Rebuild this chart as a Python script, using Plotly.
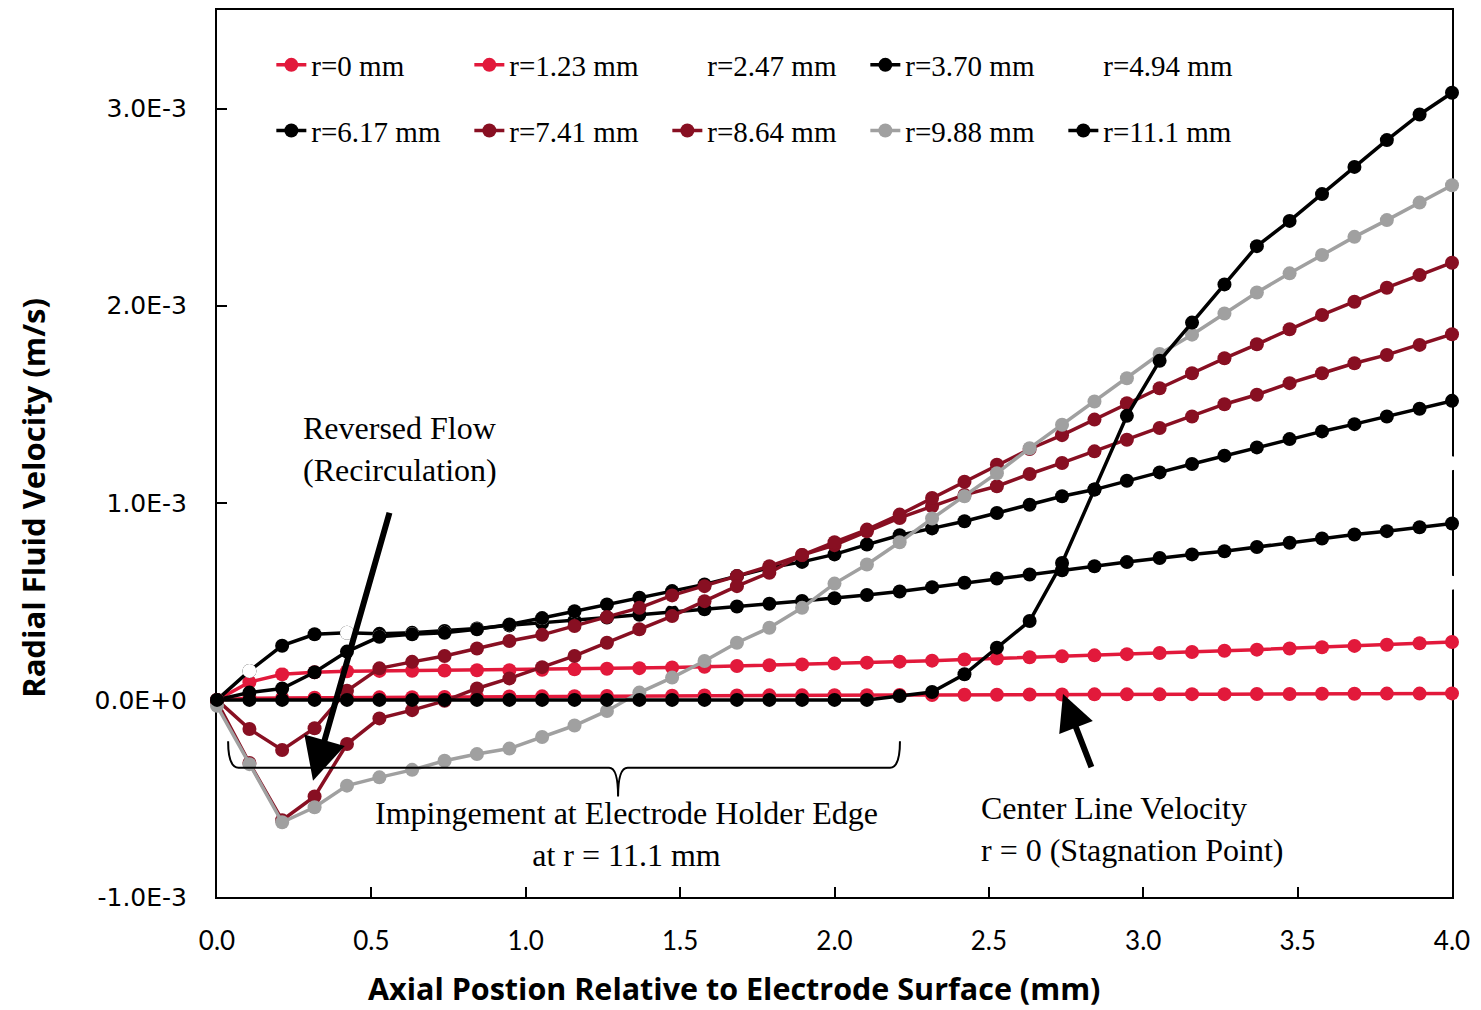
import plotly.graph_objects as go

# ---------------- data ----------------
axial_mm = [0.000, 0.105, 0.211, 0.316, 0.421, 0.526, 0.632, 0.737, 0.842, 0.947,
            1.053, 1.158, 1.263, 1.368, 1.474, 1.579, 1.684, 1.789, 1.895, 2.000,
            2.105, 2.211, 2.316, 2.421, 2.526, 2.632, 2.737, 2.842, 2.947, 3.053,
            3.158, 3.263, 3.368, 3.474, 3.579, 3.684, 3.789, 3.895, 4.000]

# radial velocities in units of 1E-3 m/s
v_r0 = [0, 0.008, 0.010, 0.011, 0.012, 0.013, 0.014, 0.015, 0.016, 0.017,
        0.018, 0.019, 0.020, 0.020, 0.021, 0.022, 0.022, 0.023, 0.023, 0.024,
        0.024, 0.025, 0.025, 0.026, 0.026, 0.027, 0.027, 0.028, 0.028, 0.028,
        0.029, 0.029, 0.030, 0.030, 0.031, 0.031, 0.032, 0.032, 0.033]
v_r123 = [0, 0.09, 0.13, 0.14, 0.145, 0.147, 0.148, 0.149, 0.150, 0.151,
          0.153, 0.155, 0.158, 0.161, 0.164, 0.168, 0.172, 0.176, 0.180, 0.184,
          0.189, 0.194, 0.199, 0.205, 0.210, 0.216, 0.221, 0.226, 0.232, 0.238,
          0.243, 0.249, 0.255, 0.261, 0.267, 0.274, 0.280, 0.287, 0.294]
v_r247 = [0, 0.147, 0.25, 0.27, 0.28, 0.285, 0.29, 0.295, 0.30, 0.305,
          0.31, 0.318, 0.326, 0.334, 0.342, 0.35, 0.358, 0.366, 0.374, 0.382,
          0.39, 0.40, 0.41, 0.42, 0.43, 0.44, 0.45, 0.46, 0.47, 0.48,
          0.49, 0.50, 0.515, 0.53, 0.545, 0.56, 0.57, 0.582, 0.594]
v_r370 = [0, 0.147, 0.275, 0.333, 0.34, 0.335, 0.34, 0.35, 0.362, 0.378,
          0.39, 0.403, 0.418, 0.432, 0.447, 0.46, 0.474, 0.488, 0.502, 0.516,
          0.532, 0.55, 0.572, 0.594, 0.616, 0.636, 0.658, 0.678, 0.699, 0.72,
          0.738, 0.754, 0.776, 0.797, 0.819, 0.839, 0.856, 0.876, 0.895]
v_r494 = [0, 0.147, 0.20, 0.26, 0.34, 0.32, 0.333, 0.34, 0.358, 0.383,
          0.415, 0.45, 0.484, 0.49, 0.51, 0.53, 0.555, 0.58, 0.60, 0.625,
          0.65, 0.68, 0.71, 0.74, 0.77, 0.80, 0.83, 0.86, 0.89, 0.92,
          0.95, 0.98, 1.01, 1.04, 1.07, 1.10, 1.13, 1.165, 1.20]
v_r617 = [0, 0.037, 0.058, 0.14, 0.245, 0.32, 0.333, 0.34, 0.358, 0.383,
          0.415, 0.45, 0.484, 0.518, 0.552, 0.586, 0.628, 0.67, 0.70, 0.738,
          0.788, 0.835, 0.87, 0.906, 0.948, 0.99, 1.033, 1.067, 1.112, 1.154,
          1.197, 1.239, 1.281, 1.323, 1.362, 1.399, 1.438, 1.477, 1.517]
v_r741 = [0, -0.148, -0.254, -0.144, 0.046, 0.16, 0.193, 0.223, 0.261, 0.299,
          0.33, 0.375, 0.42, 0.467, 0.53, 0.577, 0.628, 0.678, 0.735, 0.785,
          0.855, 0.923, 0.982, 1.04, 1.084, 1.146, 1.202, 1.261, 1.32, 1.379,
          1.438, 1.50, 1.548, 1.607, 1.657, 1.708, 1.75, 1.801, 1.855]
v_r864 = [-0.01, -0.32, -0.61, -0.49, -0.224, -0.094, -0.052, -0.005, 0.058, 0.109,
          0.166, 0.223, 0.29, 0.358, 0.425, 0.501, 0.577, 0.645, 0.735, 0.80,
          0.864, 0.94, 1.024, 1.107, 1.193, 1.273, 1.343, 1.422, 1.505, 1.581,
          1.657, 1.733, 1.804, 1.88, 1.953, 2.02, 2.091, 2.155, 2.218]
v_r988 = [-0.03, -0.326, -0.621, -0.545, -0.435, -0.393, -0.355, -0.309, -0.275, -0.247,
          -0.188, -0.13, -0.056, 0.037, 0.113, 0.197, 0.29, 0.366, 0.467, 0.59,
          0.687, 0.80, 0.92, 1.033, 1.15, 1.277, 1.396, 1.514, 1.632, 1.755,
          1.853, 1.96, 2.067, 2.164, 2.257, 2.349, 2.434, 2.523, 2.611]
v_r111 = [0, 0, 0, 0, 0, 0, 0, 0, 0, 0,
          0, 0, 0, 0, 0, 0, 0, 0, 0, 0,
          0, 0.02, 0.04, 0.13, 0.265, 0.40, 0.695, 1.067, 1.441, 1.72,
          1.914, 2.108, 2.302, 2.43, 2.566, 2.704, 2.84, 2.97, 3.08]

series_names = ["r=0 mm", "r=1.23 mm", "r=2.47 mm", "r=3.70 mm", "r=4.94 mm",
                "r=6.17 mm", "r=7.41 mm", "r=8.64 mm", "r=9.88 mm", "r=11.1 mm"]
series_values = [v_r0, v_r123, v_r247, v_r370, v_r494,
                 v_r617, v_r741, v_r864, v_r988, v_r111]

y_tick_values = [-1e-3, 0.0, 1e-3, 2e-3, 3e-3]
y_tick_labels = ["-1.0E-3", "0.0E+0", "1.0E-3", "2.0E-3", "3.0E-3"]

# ---------------- styles ----------------
RED = "#E2193B"
DARKRED = "#880F22"
GRAY = "#A0A0A0"
BLACK = "#000000"
WHITE = "#FFFFFF"
colors = [RED, RED, WHITE, BLACK, WHITE, BLACK, DARKRED, DARKRED, GRAY, BLACK]
legends = ["legend"] * 5 + ["legend2"] * 5

fig = go.Figure()
for name, vals, col, lg in zip(series_names, series_values, colors, legends):
    hidden = col == WHITE
    fig.add_trace(go.Scatter(
        x=axial_mm,
        y=[v * 1e-3 for v in vals],
        name=name,
        mode="markers" if hidden else "lines+markers",
        line=dict(color=col, width=3.5),
        marker=dict(color=col, size=14, line=dict(width=0)),
        cliponaxis=False,
        legend=lg,
    ))

legend_common = dict(
    orientation="h",
    xanchor="left",
    yanchor="middle",
    font=dict(family="Liberation Serif", size=29, color="black"),
    bgcolor="rgba(0,0,0,0)",
    entrywidth=153,
    entrywidthmode="pixels",
    itemwidth=30,
    traceorder="normal",
)

# page body has an 8px margin, so the figure is drawn 8px smaller
fig.update_layout(
    width=1473,
    height=1002,
    margin=dict(l=209, r=29, t=0, b=113),
    paper_bgcolor="white",
    plot_bgcolor="white",
    showlegend=True,
    legend=dict(x=0.044, y=0.938, **legend_common),
    legend2=dict(x=0.044, y=0.864, **legend_common),
)

fig.update_xaxes(
    range=[0, 4],
    tickmode="linear", tick0=0, dtick=0.5, tickformat=".1f",
    ticks="inside", ticklen=10, tickwidth=1.5, tickcolor="black",
    showline=True, linewidth=2, linecolor="black", mirror=True,
    showgrid=False, zeroline=False,
    tickfont=dict(family="Lato", size=26, color="black"),
    ticklabelstandoff=20,
    layer="below traces",
)
fig.update_yaxes(
    range=[-1e-3, 3.5e-3],
    tickmode="array", tickvals=y_tick_values, ticktext=y_tick_labels,
    ticks="inside", ticklen=10, tickwidth=1.5, tickcolor="black",
    showline=True, linewidth=2, linecolor="black", mirror=True,
    showgrid=False, zeroline=False,
    tickfont=dict(family="DejaVu Sans", size=25, color="black"),
    ticklabelstandoff=23,
    layer="below traces",
)

# axis titles (placed as in the original, centred on the figure)
fig.add_annotation(
    text="<b>Axial Postion Relative to Electrode Surface (mm)</b>",
    xref="paper", yref="paper", x=0.419, y=-0.1025,
    xanchor="center", yanchor="middle", showarrow=False,
    font=dict(family="Open Sans", size=30.5, color="black"),
)
fig.add_annotation(
    text="<b>Radial Fluid Velocity (m/s)</b>",
    xref="paper", yref="paper", x=-0.149, y=0.450,
    xanchor="center", yanchor="middle", showarrow=False, textangle=-90,
    font=dict(family="Open Sans", size=31, color="black"),
)

serif = dict(family="Liberation Serif", size=32, color="black")

fig.add_annotation(
    text="Reversed Flow<br>(Recirculation)",
    x=0.272, y=1.273e-3, xanchor="left", yanchor="middle", align="left",
    showarrow=False, font=serif,
)
fig.add_annotation(
    text="Impingement at Electrode Holder Edge<br>at r = 11.1 mm",
    x=1.326, y=-0.681e-3, xanchor="center", yanchor="middle", align="center",
    showarrow=False, font=serif,
)
fig.add_annotation(
    text="Center Line Velocity<br>r = 0 (Stagnation Point)",
    x=2.468, y=-0.656e-3, xanchor="left", yanchor="middle", align="left",
    showarrow=False, font=serif,
)

# arrows
fig.add_annotation(
    x=0.311, y=-0.41e-3, ax=0.560, ay=0.957e-3, axref="x", ayref="y",
    text="", showarrow=True, arrowhead=2, arrowsize=1.4, arrowwidth=6,
    arrowcolor="black", standoff=0,
)
fig.add_annotation(
    x=2.740, y=0.030e-3, ax=2.834, ay=-0.349e-3, axref="x", ayref="y",
    text="", showarrow=True, arrowhead=2, arrowsize=1.2, arrowwidth=6,
    arrowcolor="black", standoff=0,
)

# brace under the impingement region
brace = ("M 0.036,-0.21e-3 Q 0.036,-0.344e-3 0.07,-0.344e-3 "
         "L 1.27,-0.344e-3 Q 1.299,-0.344e-3 1.299,-0.49e-3 "
         "Q 1.299,-0.344e-3 1.33,-0.344e-3 L 2.18,-0.344e-3 "
         "Q 2.212,-0.344e-3 2.212,-0.21e-3")
fig.add_shape(type="path", path=brace, xref="x", yref="y",
              line=dict(color="black", width=2))

fig.write_html("out.html")
